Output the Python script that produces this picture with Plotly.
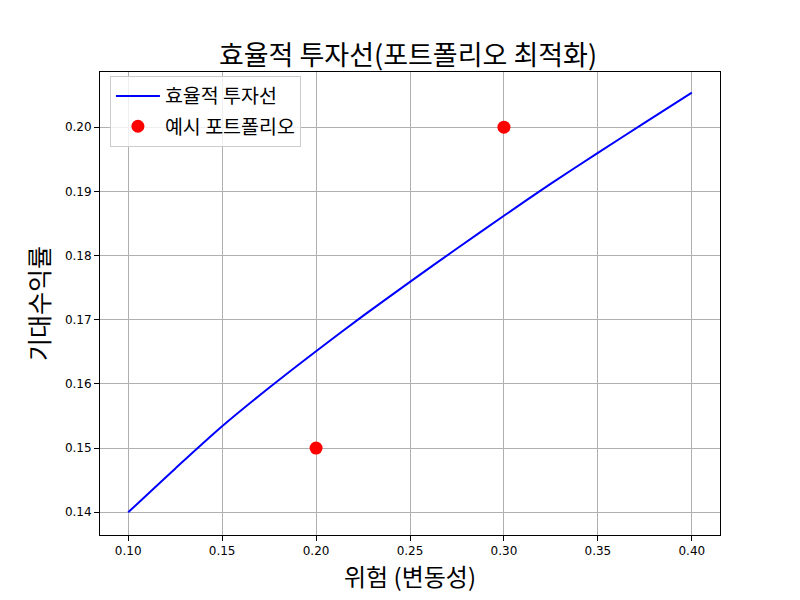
import plotly.graph_objects as go

# efficient frontier
risk = [0.100, 0.125, 0.150, 0.175, 0.200, 0.225, 0.250, 0.275, 0.300, 0.325, 0.350, 0.375, 0.400]
ret = [0.1400, 0.1468, 0.1534, 0.1594, 0.1651, 0.1706, 0.1759, 0.1811, 0.1862, 0.1912, 0.1960, 0.2007, 0.2054]

# sample portfolios
sample_risk = [0.2, 0.3]
sample_ret = [0.15, 0.20]

kfont = "Noto Sans CJK KR, Malgun Gothic, sans-serif"

fig = go.Figure()
fig.add_trace(go.Scatter(x=risk, y=ret, mode="lines", name="효율적 투자선", legendgroup="a",
                         line=dict(color="blue", width=2, shape="spline", smoothing=0.8)))
fig.add_trace(go.Scatter(x=sample_risk, y=sample_ret, mode="markers", name="예시 포트폴리오", legendgroup="b",
                         marker=dict(color="red", size=13)))

axis_common = dict(showgrid=True, gridcolor="#b0b0b0", gridwidth=1,
                   showline=True, linecolor="black", linewidth=1, mirror=True,
                   ticks="outside", ticklen=5, tickcolor="black",
                   tickfont=dict(family="DejaVu Sans", size=12, color="black"),
                   zeroline=False)

# the page body adds 8px, so margins are shifted to put the plot box where the reference has it
fig.update_layout(
    width=800, height=600,
    paper_bgcolor="white", plot_bgcolor="white",
    margin=dict(l=92, r=88, t=64, b=73),
    title=dict(text="효율적 투자선(포트폴리오 최적화)", x=0.5, xanchor="center",
               y=0.92, yanchor="middle",
               font=dict(family=kfont, size=27, color="black")),
    xaxis=dict(axis_common, range=[0.085, 0.415], tickvals=[0.10, 0.15, 0.20, 0.25, 0.30, 0.35, 0.40],
               tickformat=".2f",
               title=dict(text="위험 (변동성)", font=dict(family=kfont, size=24, color="black"), standoff=6)),
    yaxis=dict(axis_common, range=[0.13646, 0.2086], tickvals=[0.14, 0.15, 0.16, 0.17, 0.18, 0.19, 0.20],
               tickformat=".2f",
               title=dict(text="기대수익률", font=dict(family=kfont, size=25, color="black"), standoff=8)),
    legend=dict(x=0.016, y=0.992, xanchor="left", yanchor="top",
                bgcolor="rgba(255,255,255,0.8)", bordercolor="#cccccc", borderwidth=1,
                itemwidth=44, tracegroupgap=2,
                font=dict(family=kfont, size=19.5, color="black")),
)

fig.write_html("out.html")
